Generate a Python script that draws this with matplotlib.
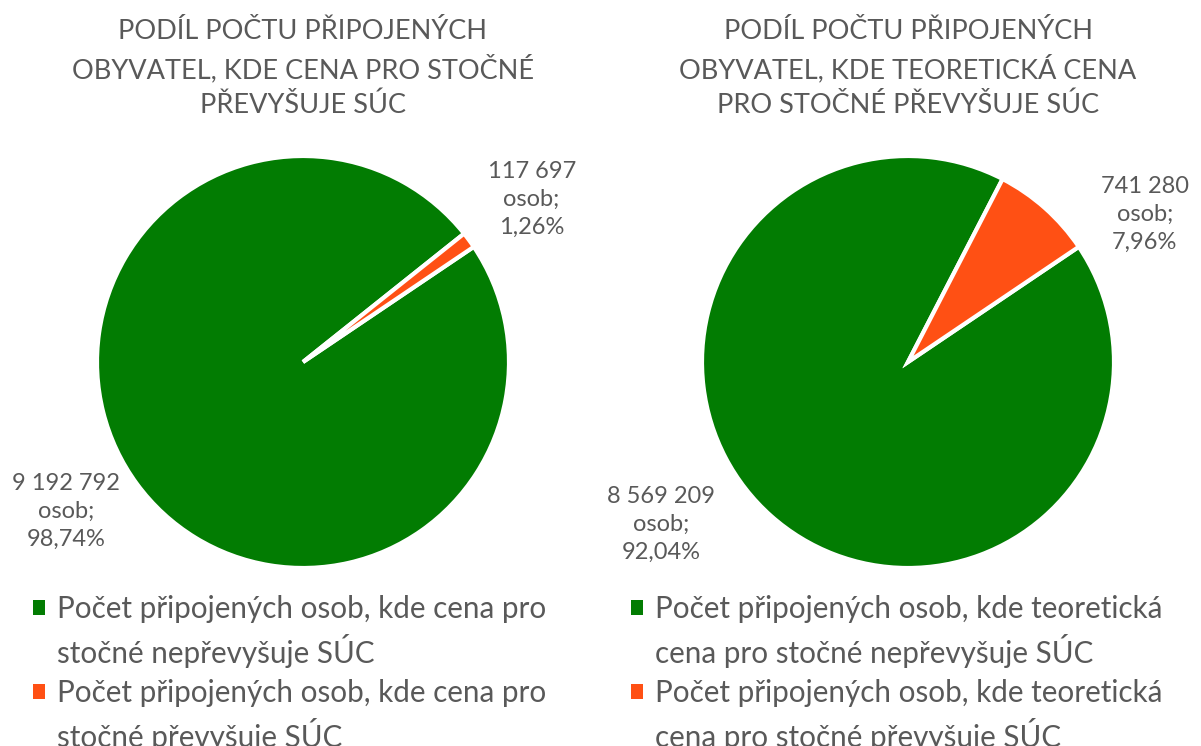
import matplotlib.pyplot as plt
from matplotlib.patches import Patch

plt.rcParams['font.family'] = ['Lato', 'DejaVu Sans']

# data
titles = ["PODÍL POČTU PŘIPOJENÝCH\nOBYVATEL, KDE CENA PRO STOČNÉ\nPŘEVYŠUJE SÚC",
          "PODÍL POČTU PŘIPOJENÝCH\nOBYVATEL, KDE TEORETICKÁ CENA\nPRO STOČNÉ PŘEVYŠUJE SÚC"]
left_values = [9192792, 117697]
right_values = [8569209, 741280]
left_labels = ["9 192 792\nosob;\n98,74%", "117 697\nosob;\n1,26%"]
right_labels = ["8 569 209\nosob;\n92,04%", "741 280\nosob;\n7,96%"]
left_legend = [["Počet připojených osob, kde cena pro", "stočné nepřevyšuje SÚC"],
               ["Počet připojených osob, kde cena pro", "stočné převyšuje SÚC"]]
right_legend = [["Počet připojených osob, kde teoretická", "cena pro stočné nepřevyšuje SÚC"],
                ["Počet připojených osob, kde teoretická", "cena pro stočné převyšuje SÚC"]]
colors = ["#027C02", "#FF5014"]
text_col = "#595959"

W, H = 1201, 746
fig = plt.figure(figsize=(W / 100, H / 100), dpi=100)


def px_axes(cx, cy, r):
    return fig.add_axes([(cx - r) / W, (H - cy - r) / H, 2 * r / W, 2 * r / H])


panels = [
    (303, left_values, left_labels, left_legend, titles[0], [(-1.15, -0.725), (1.11, 0.79)], 33),
    (908, right_values, right_labels, right_legend, titles[1], [(-1.20, -0.79), (1.15, 0.715)], 631),
]

for cx, vals, labs, leg, title, lpos, legx in panels:
    ax = px_axes(cx, 362, 206)
    wedges, _ = ax.pie(vals, colors=colors, startangle=34, counterclock=False,
                       wedgeprops=dict(edgecolor="white", linewidth=3), radius=1)
    ax.set_xlim(-1, 1)
    ax.set_ylim(-1, 1)
    ax.set_aspect('equal')
    ax.axis('off')
    for (x, y), t in zip(lpos, labs):
        ax.text(x, y, t, ha='center', va='center', fontsize=17, color=text_col,
                linespacing=1.4)
    fig.text(cx / W, 1 - 19 / H, title, ha='center', va='top', fontsize=19.5,
             color=text_col, linespacing=1.45)
    handles, labels = [], []
    for c, lines in zip(colors, leg):
        handles += [Patch(facecolor=c, edgecolor='none'), Patch(alpha=0)]
        labels += lines
    fig.legend(handles, labels, loc='upper left', bbox_to_anchor=(legx / W, 1 - 595 / H),
               frameon=False, fontsize=21.3, labelcolor=text_col, handlelength=0.4,
               handleheight=0.4, handletextpad=0.4, labelspacing=0.37,
               borderpad=0, borderaxespad=0)

fig.savefig("out.png", dpi=100)
